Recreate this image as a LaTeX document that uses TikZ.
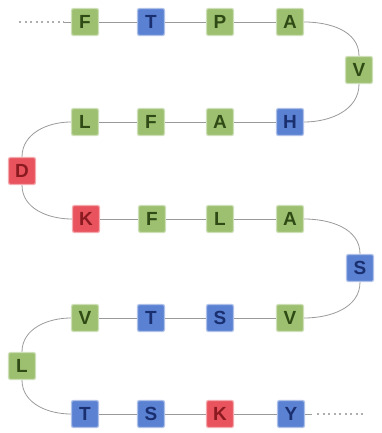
\documentclass[tikz,border=0pt]{standalone}
\usepackage{fontspec}
\setmainfont{Liberation Sans}
\begin{document}
\begin{tikzpicture}[x=1pt,y=-1pt,
  res/.style={minimum width=27pt,minimum height=27pt,inner sep=0pt,rounded corners=2pt,font=\fontsize{19}{20}\selectfont\bfseries},
  gres/.style={res,fill=resgreen,draw=resgreen!50,line width=1.2pt,text=resgreentext},
  bres/.style={res,fill=resblue,draw=resblue!50,line width=1.2pt,text=resbluetext},
  rres/.style={res,fill=resred,draw=resred!50,line width=1.2pt,text=resredtext},
  link/.style={draw=linkgray,line width=0.8pt},
  dots/.style={draw=linkgray!80,line width=1.3pt,dash pattern=on 2pt off 3.5pt}]
\definecolor{resgreen}{HTML}{9CC070}
\definecolor{resgreentext}{HTML}{2F4A15}
\definecolor{resblue}{HTML}{5B82D2}
\definecolor{resbluetext}{HTML}{1A2F70}
\definecolor{resred}{HTML}{E8535D}
\definecolor{resredtext}{HTML}{8A1A20}
\definecolor{linkgray}{HTML}{9A9A9A}
\useasboundingbox (0,0) rectangle (381,433);
% row 1
\node[gres] (r1a) at (85,22) {F};
\node[bres] (r1b) at (151,22) {T};
\node[gres] (r1c) at (220,22) {P};
\node[gres] (r1d) at (290,22) {A};
\node[gres] (s1) at (359,70) {V};
% row 2
\node[gres] (r2a) at (85,122) {L};
\node[gres] (r2b) at (151,122) {F};
\node[gres] (r2c) at (220,122) {A};
\node[bres] (r2d) at (290,122) {H};
\node[rres] (s2) at (22,171) {D};
% row 3
\node[rres] (r3a) at (86,219) {K};
\node[gres] (r3b) at (152,219) {F};
\node[gres] (r3c) at (220,219) {L};
\node[gres] (r3d) at (290,219) {A};
\node[bres] (s3) at (360,268) {S};
% row 4
\node[gres] (r4a) at (85,318) {V};
\node[bres] (r4b) at (151,318) {T};
\node[bres] (r4c) at (220,318) {S};
\node[gres] (r4d) at (290,318) {V};
\node[gres] (s4) at (22,366) {L};
% row 5
\node[bres] (r5a) at (85,414) {T};
\node[bres] (r5b) at (151,414) {S};
\node[rres] (r5c) at (220,414) {K};
\node[bres] (r5d) at (291,414) {Y};
\coordinate (startdots) at (19,22);
\coordinate (startsolid) at (64,22);
\coordinate (endsolid) at (312,414);
\coordinate (enddots) at (366,414);
\path[dots] (startdots) -- (startsolid);
\path[link] (startsolid) -- (r1a.west);
\path[link] (r5d.east) -- (endsolid);
\path[dots] ([xshift=5pt]endsolid) -- (enddots);
\path[link] (r1a) -- (r1b) -- (r1c) -- (r1d);
\path[link] (r1d.east) to[out=0,in=90] (s1.north);
\path[link] (s1.south) to[out=-90,in=0] (r2d.east);
\path[link] (r2d) -- (r2c) -- (r2b) -- (r2a);
\path[link] (r2a.west) to[out=180,in=90] (s2.north);
\path[link] (s2.south) to[out=-90,in=180] (r3a.west);
\path[link] (r3a) -- (r3b) -- (r3c) -- (r3d);
\path[link] (r3d.east) to[out=0,in=90] (s3.north);
\path[link] (s3.south) to[out=-90,in=0] (r4d.east);
\path[link] (r4d) -- (r4c) -- (r4b) -- (r4a);
\path[link] (r4a.west) to[out=180,in=90] (s4.north);
\path[link] (s4.south) to[out=-90,in=180] (r5a.west);
\path[link] (r5a) -- (r5b) -- (r5c) -- (r5d);
\end{tikzpicture}
\end{document}
